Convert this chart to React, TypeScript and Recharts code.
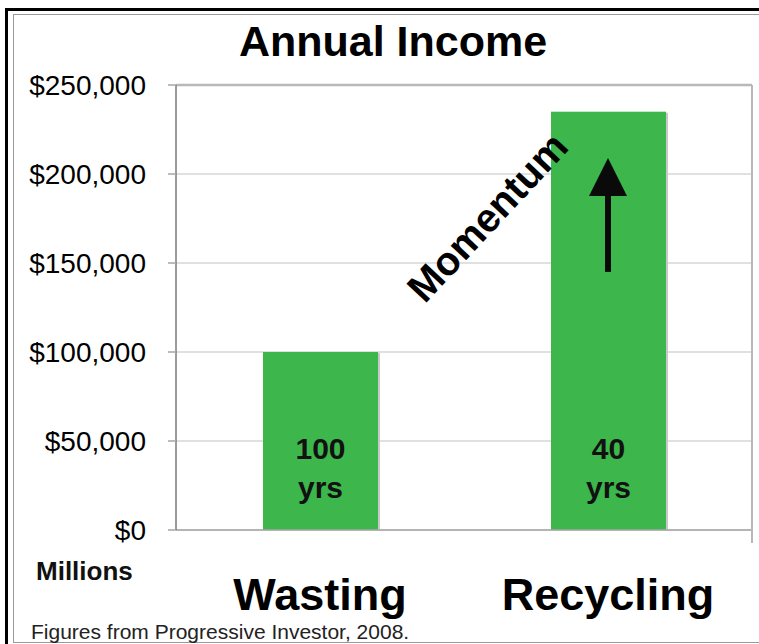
import React from 'react';
import {
  BarChart,
  Bar,
  XAxis,
  YAxis,
  CartesianGrid,
  LabelList,
  ReferenceLine,
  ReferenceDot,
} from 'recharts';

const categories = ['Wasting', 'Recycling'];
const incomeValues = [100000, 235000];
const durationLabels = ['100', '40'];
const yTicks = [0, 50000, 100000, 150000, 200000, 250000];
const arrowTail = 145000;
const arrowBase = 189000;
const arrowTip = 209000;
const momentumY = 176000;

const data = categories.map((name, i) => ({
  name,
  income: incomeValues[i],
  years: durationLabels[i],
  pos: i,
}));

const FONT = '"Liberation Sans", Arial, Helvetica, sans-serif';
const GREEN = '#3DB64B';

const fmt = (v: number) => '$' + v.toLocaleString('en-US');

const BarShape = (props: any) => {
  const { x, y, width, height } = props;
  return (
    <g>
      <rect x={x + 2} y={y + 1} width={width} height={height - 1} fill="#c8c8c8" />
      <rect x={x} y={y} width={width} height={height} fill={GREEN} />
    </g>
  );
};

const YearsLabel = (props: any) => {
  const { x, y, width, height, value } = props;
  const cx = x + width / 2;
  const bottom = y + height;
  return (
    <g fontFamily={FONT} fontWeight="bold" fontSize={30} fill="#111" textAnchor="middle">
      <text x={cx} y={bottom - 71}>{value}</text>
      <text x={cx} y={bottom - 32}>yrs</text>
    </g>
  );
};

const XTick = (props: any) => {
  const { x, y, payload } = props;
  return (
    <text x={x} y={y + 80} textAnchor="middle" fontFamily={FONT} fontWeight="bold" fontSize={45} fill="#000">
      {payload.value}
    </text>
  );
};

const ArrowHead = (props: any) => {
  const { cx, cy } = props;
  return <polygon points={`${cx},${cy} ${cx - 19},${cy + 38} ${cx + 19},${cy + 38}`} fill="#0a0a0a" />;
};

const MomentumText = (props: any) => {
  const { cx, cy } = props;
  const tx = cx - 121;
  return (
    <text
      x={tx}
      y={cy}
      dy="0.36em"
      textAnchor="middle"
      fontFamily={FONT}
      fontWeight="bold"
      fontSize={40}
      fill="#000"
      transform={`rotate(-47 ${tx} ${cy})`}
    >
      Momentum
    </text>
  );
};

export default function App() {
  return (
    <div style={{ position: 'absolute', left: 0, top: 0, width: 759, height: 644, background: '#fff', overflow: 'hidden' }}>
      <div style={{ position: 'absolute', left: 5, top: 8, width: 800, height: 700, borderLeft: '3px solid #000', borderTop: '3px solid #000' }} />
      <div style={{ position: 'absolute', left: 13, top: 14, width: 800, height: 627, borderLeft: '1px solid #9a9a9a', borderTop: '1px solid #9a9a9a', borderBottom: '1px solid #9a9a9a' }} />
      <div style={{ position: 'absolute', left: 0, top: 0 }}>
        <BarChart width={759} height={644} data={data} margin={{ top: 85, right: 7, bottom: 112, left: 0 }} barCategoryGap={0}>
          <CartesianGrid vertical={false} stroke="#d6d6d6" strokeWidth={1.5} />
          <XAxis
            dataKey="name"
            tickLine={false}
            tickSize={0}
            tickMargin={0}
            height={1}
            axisLine={{ stroke: '#a6a6a6', strokeWidth: 1.5 }}
            tick={<XTick />}
            interval={0}
          />
          <XAxis
            xAxisId="bounds"
            type="number"
            domain={[0, 2]}
            ticks={[0, 1, 2]}
            allowDataOverflow
            axisLine={false}
            tick={false}
            tickSize={13}
            tickLine={{ stroke: '#a6a6a6', strokeWidth: 1.5 }}
            height={1}
          />
          <YAxis
            width={176}
            domain={[0, 250000]}
            ticks={yTicks}
            tickFormatter={fmt}
            tickSize={8}
            tickMargin={22}
            axisLine={{ stroke: '#7a7a7a', strokeWidth: 1.5 }}
            tickLine={{ stroke: '#a6a6a6', strokeWidth: 1.5 }}
            tick={{ fontFamily: FONT, fontSize: 28, fill: '#000' }}
          />
          <Bar dataKey="income" barSize={115} shape={<BarShape />} isAnimationActive={false}>
            <LabelList dataKey="years" content={<YearsLabel />} />
          </Bar>
          <ReferenceLine y={250000} stroke="#b8b8b8" strokeWidth={2.5} />
          <ReferenceLine
            segment={[{ x: 'Recycling', y: arrowTail }, { x: 'Recycling', y: arrowBase }]}
            stroke="#0a0a0a"
            strokeWidth={6}
          />
          <ReferenceDot x="Recycling" y={arrowTip} shape={<ArrowHead />} />
          <ReferenceDot x="Recycling" y={momentumY} shape={<MomentumText />} />
        </BarChart>
      </div>
      <div style={{ position: 'absolute', left: 751, top: 85, width: 2, height: 458, background: '#b8b8b8' }} />
      <div style={{ position: 'absolute', left: 0, top: 16, width: 786, textAlign: 'center', fontFamily: FONT, fontWeight: 'bold', fontSize: 43, lineHeight: '50px', color: '#000' }}>
        Annual Income
      </div>
      <div style={{ position: 'absolute', left: 36, top: 557, fontFamily: FONT, fontWeight: 'bold', fontSize: 26, lineHeight: '28px', color: '#111' }}>
        Millions
      </div>
      <div style={{ position: 'absolute', left: 31, top: 619, fontFamily: FONT, fontSize: 21, lineHeight: '26px', color: '#222', whiteSpace: 'nowrap' }}>
        Figures from Progressive Investor, 2008.
      </div>
    </div>
  );
}
